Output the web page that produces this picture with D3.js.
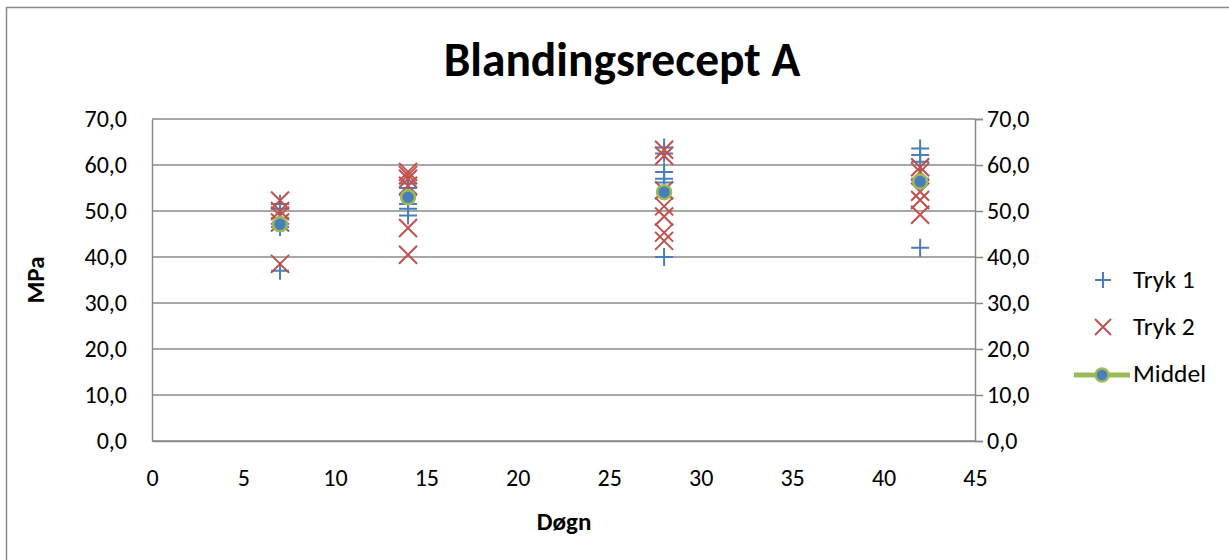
<!DOCTYPE html>
<html><head><meta charset="utf-8">
<script src="https://cdn.jsdelivr.net/npm/d3@7"></script>
<style>
html,body{margin:0;padding:0;background:#fff;}
svg text{font-family:Carlito, Lato, "Liberation Sans", sans-serif;fill:#000;}
</style></head>
<body>
<svg id="chart" width="1229" height="560"></svg>
<script>
const days = [7, 14, 28, 42];
const tryk1Day7  = [51.5, 50.5, 48.5, 46.5, 37.0];
const tryk1Day14 = [56.0, 55.0, 53.5, 51.5, 50.5, 49.0];
const tryk1Day28 = [63.8, 62.5, 58.5, 57.0, 56.2, 40.0];
const tryk1Day42 = [63.6, 62.2, 60.7, 57.0, 42.0];
const tryk2Day7  = [52.3, 50.0, 49.0, 47.5, 38.5];
const tryk2Day14 = [58.5, 57.8, 57.0, 55.5, 46.3, 40.5];
const tryk2Day28 = [63.3, 62.0, 54.5, 51.0, 48.8, 45.3, 43.5];
const tryk2Day42 = [59.5, 58.5, 54.2, 52.4, 49.2];
const middel = [47.1, 53.0, 54.1, 56.4];
const xTicks = [0, 5, 10, 15, 20, 25, 30, 35, 40, 45];
const yTicks = [0, 10, 20, 30, 40, 50, 60, 70];
const seriesNames = ["Tryk 1", "Tryk 2", "Middel"];
const title = "Blandingsrecept A";
const xTitle = "Døgn";
const yTitle = "MPa";

const tryk1 = [tryk1Day7, tryk1Day14, tryk1Day28, tryk1Day42]
  .flatMap((arr, i) => arr.map(v => ({x: days[i], y: v})));
const tryk2 = [tryk2Day7, tryk2Day14, tryk2Day28, tryk2Day42]
  .flatMap((arr, i) => arr.map(v => ({x: days[i], y: v})));

const BLUE = "#4a7ebb", RED = "#c0504d", GREEN = "#9bbb59", GRID = "#8a8a8a";
const svg = d3.select("#chart");

// outer border
svg.append("rect").attr("x", 6.5).attr("y", 7.5).attr("width", 1240).attr("height", 560)
  .attr("fill", "none").attr("stroke", "#8a8a8a").attr("stroke-width", 1.5);

const x = d3.scaleLinear().domain([0, 45]).range([152, 975]);
const y = d3.scaleLinear().domain([0, 70]).range([441, 119]);
const fmt = d => d3.format(".1f")(d).replace(".", ",");

// gridlines
svg.append("g").selectAll("line").data(yTicks).join("line")
  .attr("x1", x(0)).attr("x2", x(45))
  .attr("y1", d => y(d)).attr("y2", d => y(d))
  .attr("stroke", GRID).attr("stroke-width", 1.5);

// left axis
const gl = svg.append("g").attr("transform", `translate(${x(0)},0)`)
  .call(d3.axisLeft(y).tickValues(yTicks).tickSize(0).tickPadding(25).tickFormat(fmt));
gl.select(".domain").attr("stroke", GRID).attr("stroke-width", 1.5);
gl.selectAll("text").style("font-size", "24px");

// right axis
const gr = svg.append("g").attr("transform", `translate(${x(45)},0)`)
  .call(d3.axisRight(y).tickValues(yTicks).tickSize(8).tickPadding(4).tickFormat(fmt));
gr.select(".domain").attr("stroke", GRID).attr("stroke-width", 1.5);
gr.selectAll(".tick line").attr("stroke", GRID).attr("stroke-width", 1.5);
gr.selectAll("text").style("font-size", "24px");

// bottom axis
const gb = svg.append("g").attr("transform", `translate(0,${y(0)})`)
  .call(d3.axisBottom(x).tickValues(xTicks).tickSize(0).tickPadding(28));
gb.select(".domain").attr("stroke", GRID).attr("stroke-width", 1.5);
gb.selectAll("text").style("font-size", "24px");

function plusPath(s){ return `M${-s},0H${s}M0,${-s}V${s}`; }
function xPath(s){ return `M${-s},${-s}L${s},${s}M${-s},${s}L${s},${-s}`; }

svg.append("g").selectAll("path").data(tryk1).join("path")
  .attr("transform", d => `translate(${x(d.x)},${y(d.y)})`)
  .attr("d", plusPath(9)).attr("stroke", BLUE).attr("stroke-width", 2).attr("fill", "none");

svg.append("g").selectAll("path").data(tryk2).join("path")
  .attr("transform", d => `translate(${x(d.x)},${y(d.y)})`)
  .attr("d", xPath(9)).attr("stroke", RED).attr("stroke-width", 2).attr("fill", "none");

svg.append("g").selectAll("circle").data(middel).join("circle")
  .attr("cx", (d, i) => x(days[i])).attr("cy", d => y(d)).attr("r", 7)
  .attr("fill", BLUE).attr("stroke", GREEN).attr("stroke-width", 2.5);

// titles
svg.append("text").attr("x", 622).attr("y", 76).attr("text-anchor", "middle")
  .style("font-size", "47.5px").style("font-weight", "bold").text(title);
svg.append("text").attr("x", 564).attr("y", 530).attr("text-anchor", "middle")
  .style("font-size", "25px").style("font-weight", "bold").text(xTitle);
svg.append("text").attr("transform", "translate(44,280) rotate(-90)").attr("text-anchor", "middle")
  .style("font-size", "25px").style("font-weight", "bold").text(yTitle);

// legend
const lg = svg.append("g");
lg.append("path").attr("transform", "translate(1103,280)").attr("d", plusPath(8))
  .attr("stroke", BLUE).attr("stroke-width", 2).attr("fill", "none");
lg.append("path").attr("transform", "translate(1103,327)").attr("d", xPath(8))
  .attr("stroke", RED).attr("stroke-width", 2).attr("fill", "none");
lg.append("line").attr("x1", 1074).attr("x2", 1130).attr("y1", 375).attr("y2", 375)
  .attr("stroke", GREEN).attr("stroke-width", 5);
lg.append("circle").attr("cx", 1102).attr("cy", 375).attr("r", 6.5)
  .attr("fill", BLUE).attr("stroke", GREEN).attr("stroke-width", 2.5);
lg.selectAll("text.leg").data(seriesNames).join("text").attr("class", "leg")
  .attr("x", 1133).attr("y", (d, i) => 288 + i * 47)
  .style("font-size", "25.5px").text(d => d);
</script>
</body></html>
